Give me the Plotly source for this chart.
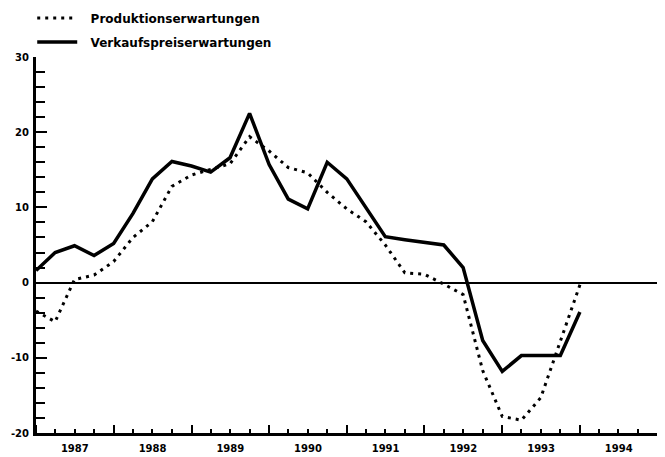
import plotly.graph_objects as go

# Quartalswerte 1987 Q1 .. 1994 Q1 (Salden in %)
quartale = [
    "1987-01-01", "1987-04-01", "1987-07-01", "1987-10-01",
    "1988-01-01", "1988-04-01", "1988-07-01", "1988-10-01",
    "1989-01-01", "1989-04-01", "1989-07-01", "1989-10-01",
    "1990-01-01", "1990-04-01", "1990-07-01", "1990-10-01",
    "1991-01-01", "1991-04-01", "1991-07-01", "1991-10-01",
    "1992-01-01", "1992-04-01", "1992-07-01", "1992-10-01",
    "1993-01-01", "1993-04-01", "1993-07-01", "1993-10-01",
    "1994-01-01",
]
produktion = [
    -3.8, -5.2, 0.4, 1.0,
    2.8, 6.0, 8.1, 12.8,
    14.3, 15.0, 15.8, 19.4,
    17.5, 15.3, 14.6, 12.0,
    9.8, 8.1, 5.0, 1.3,
    1.1, -0.2, -1.6, -11.7,
    -17.8, -18.3, -15.3, -7.8,
    -0.3,
]
verkaufspreise = [
    1.6, 4.0, 4.9, 3.6,
    5.2, 9.2, 13.8, 16.1,
    15.5, 14.7, 16.6, 22.5,
    15.7, 11.1, 9.8, 16.0,
    13.8, 10.0, 6.1, 5.7,
    5.3, 5.0, 2.0, -7.7,
    -11.8, -9.7, -9.7, -9.7,
    -3.9,
]
y_ticks = [-20, -10, 0, 10, 20, 30]
y_ticktext = ["-20", "-10", "0", "10", "20", "30"]

schrift = "DejaVu Sans"
abstand = "\u00a0\u00a0"  # etwas Luft zwischen Linie und Text in der Legende

fig = go.Figure()
fig.add_trace(go.Scatter(
    x=quartale, y=produktion, mode="lines", name=abstand + "Produktionserwartungen",
    legendgroup="a",
    line=dict(color="black", width=3, dash="3px,5px"),
))
fig.add_trace(go.Scatter(
    x=quartale, y=verkaufspreise, mode="lines", name=abstand + "Verkaufspreiserwartungen",
    legendgroup="b",
    line=dict(color="black", width=3.5),
))

# die Seite hat 8px Rand, daher 657x449
fig.update_layout(
    width=657, height=449,
    margin=dict(l=28, r=0, t=49, b=24, autoexpand=False),
    paper_bgcolor="white", plot_bgcolor="white",
    font=dict(family=schrift, size=11, color="black"),
    showlegend=True,
    legend=dict(
        xref="paper", yref="paper",
        x=-0.006, y=1.142, xanchor="left", yanchor="top",
        font=dict(family=schrift, size=12, weight="bold"),
        tracegroupgap=5, itemwidth=40,
        bgcolor="rgba(0,0,0,0)",
    ),
    xaxis=dict(
        type="date",
        range=["1987-01-01", "1995-02-05"],
        tick0="1987-01-01", dtick="M12", tickformat="%Y",
        ticklabelmode="period",
        ticks="inside", ticklen=8, tickwidth=2, tickcolor="black",
        ticklabelstandoff=4,
        minor=dict(dtick="M3", ticks="inside", ticklen=4, tickwidth=1.5,
                   tickcolor="black", showgrid=False),
        showline=True, linecolor="black", linewidth=3,
        showgrid=False, zeroline=False,
        tickfont=dict(family=schrift, size=10, weight="bold"),
    ),
    yaxis=dict(
        range=[-20, 30],
        tickvals=y_ticks, ticktext=y_ticktext,
        ticks="inside", ticklen=11, tickwidth=2, tickcolor="black",
        ticklabelstandoff=2,
        minor=dict(dtick=2, ticks="inside", ticklen=9, tickwidth=2,
                   tickcolor="black", showgrid=False),
        showline=True, linecolor="black", linewidth=3,
        showgrid=False,
        zeroline=True, zerolinecolor="black", zerolinewidth=1.5,
        tickfont=dict(family=schrift, size=10, weight="bold"),
    ),
)

fig.write_html("out.html")
